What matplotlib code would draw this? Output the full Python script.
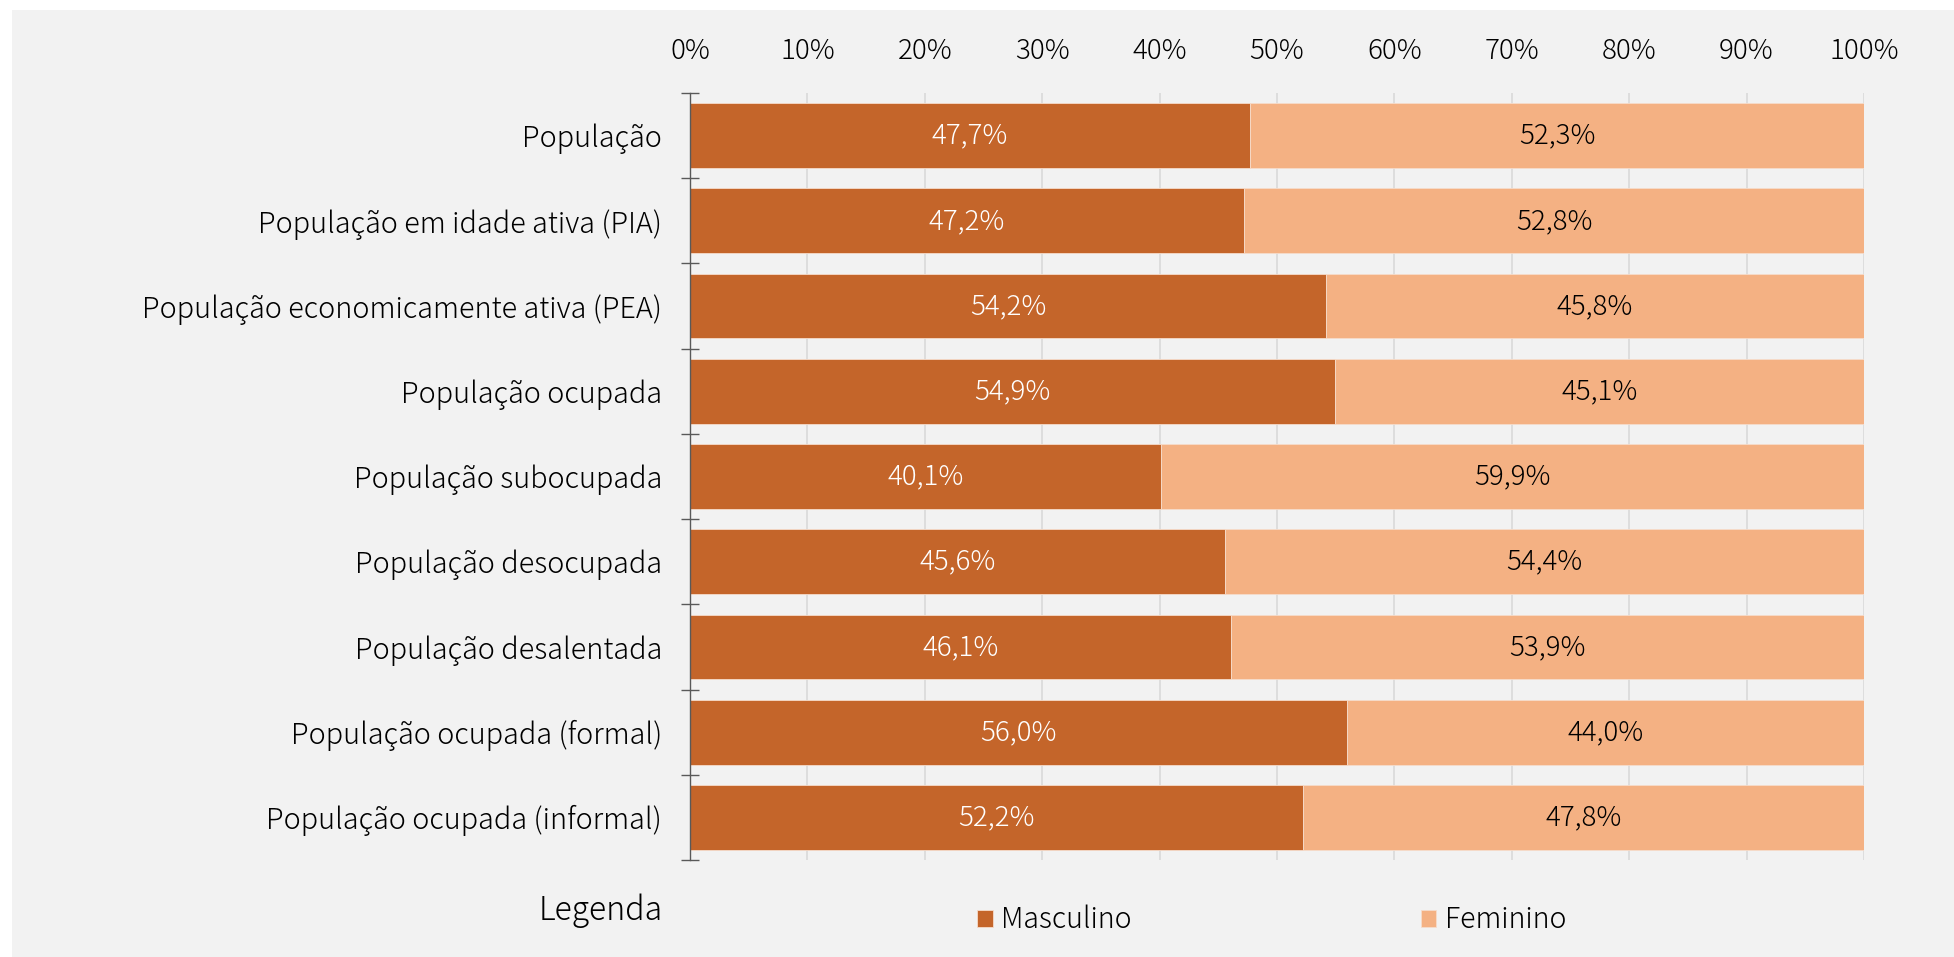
import matplotlib
matplotlib.use("Agg")
import matplotlib.pyplot as plt
from matplotlib.patches import Rectangle
from matplotlib.ticker import FixedLocator, PercentFormatter

plt.rcParams['font.family'] = ['Noto Sans CJK JP', 'DejaVu Sans']
plt.rcParams['font.weight'] = 'light'

categorias = [
    "População",
    "População em idade ativa (PIA)",
    "População economicamente ativa (PEA)",
    "População ocupada",
    "População subocupada",
    "População desocupada",
    "População desalentada",
    "População ocupada (formal)",
    "População ocupada (informal)",
]
masculino = [47.7, 47.2, 54.2, 54.9, 40.1, 45.6, 46.1, 56.0, 52.2]
feminino = [52.3, 52.8, 45.8, 45.1, 59.9, 54.4, 53.9, 44.0, 47.8]

cor_masc = "#C4652A"
cor_fem = "#F4B183"
fundo = "#F2F2F2"

fig = plt.figure(figsize=(19.54, 9.57), dpi=100)
fig.patch.set_facecolor("white")
# painel cinza de fundo
fig.patches.append(Rectangle((12 / 1954, 0), 1 - 12 / 1954, 1 - 10 / 957,
                             transform=fig.transFigure, facecolor=fundo,
                             edgecolor="none", zorder=-10))

ax = fig.add_axes([690 / 1954, 97 / 957, 1174 / 1954, 767 / 957])
ax.set_facecolor(fundo)

y = list(range(len(categorias)))
b1 = ax.barh(y, masculino, height=0.76, color=cor_masc, edgecolor="#f6dccb",
             linewidth=0.6, label="Masculino", zorder=2)
b2 = ax.barh(y, feminino, left=masculino, height=0.76, color=cor_fem,
             edgecolor="#f6dccb", linewidth=0.6, label="Feminino", zorder=2)

fs = 20
ax.bar_label(b1, labels=[f"{v:.1f}%".replace(".", ",") for v in masculino],
             label_type="center", color="white", fontsize=fs)
ax.bar_label(b2, labels=[f"{v:.1f}%".replace(".", ",") for v in feminino],
             label_type="center", color="black", fontsize=fs)

ax.set_xlim(0, 100)
ax.set_ylim(len(categorias) - 0.5, -0.5)
ax.xaxis.tick_top()
ax.set_xticks(range(0, 101, 10))
ax.xaxis.set_major_formatter(PercentFormatter(decimals=0))
ax.tick_params(axis="x", length=0, pad=20, labelsize=fs)
ax.grid(axis="x", color="#D9D9D9", linewidth=1.2, zorder=0)

ax.set_yticks(y)
ax.set_yticklabels(categorias)
ax.tick_params(axis="y", which="major", length=0, pad=20, labelsize=20.7)
ax.yaxis.set_minor_locator(FixedLocator([i - 0.5 for i in range(len(categorias) + 1)]))
ax.tick_params(axis="y", which="minor", direction="inout", length=13,
               width=1.0, color="#595959")

for s in ["top", "right", "bottom"]:
    ax.spines[s].set_visible(False)
ax.spines["left"].set_color("#595959")
ax.spines["left"].set_linewidth(1.0)
ax.spines["left"].set_zorder(3)

fig.text(663 / 1954, 1 - 911 / 957, "Legenda", ha="right", va="center",
         fontsize=23)
fig.legend(handles=[b1, b2], loc="center left",
           bbox_to_anchor=(977 / 1954, 1 - 920 / 957), ncol=2, frameon=False,
           fontsize=20.5, handlelength=0.55, handleheight=0.55, handletextpad=0.3,
           columnspacing=10.15, borderaxespad=0, borderpad=0)

fig.savefig("out.png", dpi=100, facecolor=fig.get_facecolor())
